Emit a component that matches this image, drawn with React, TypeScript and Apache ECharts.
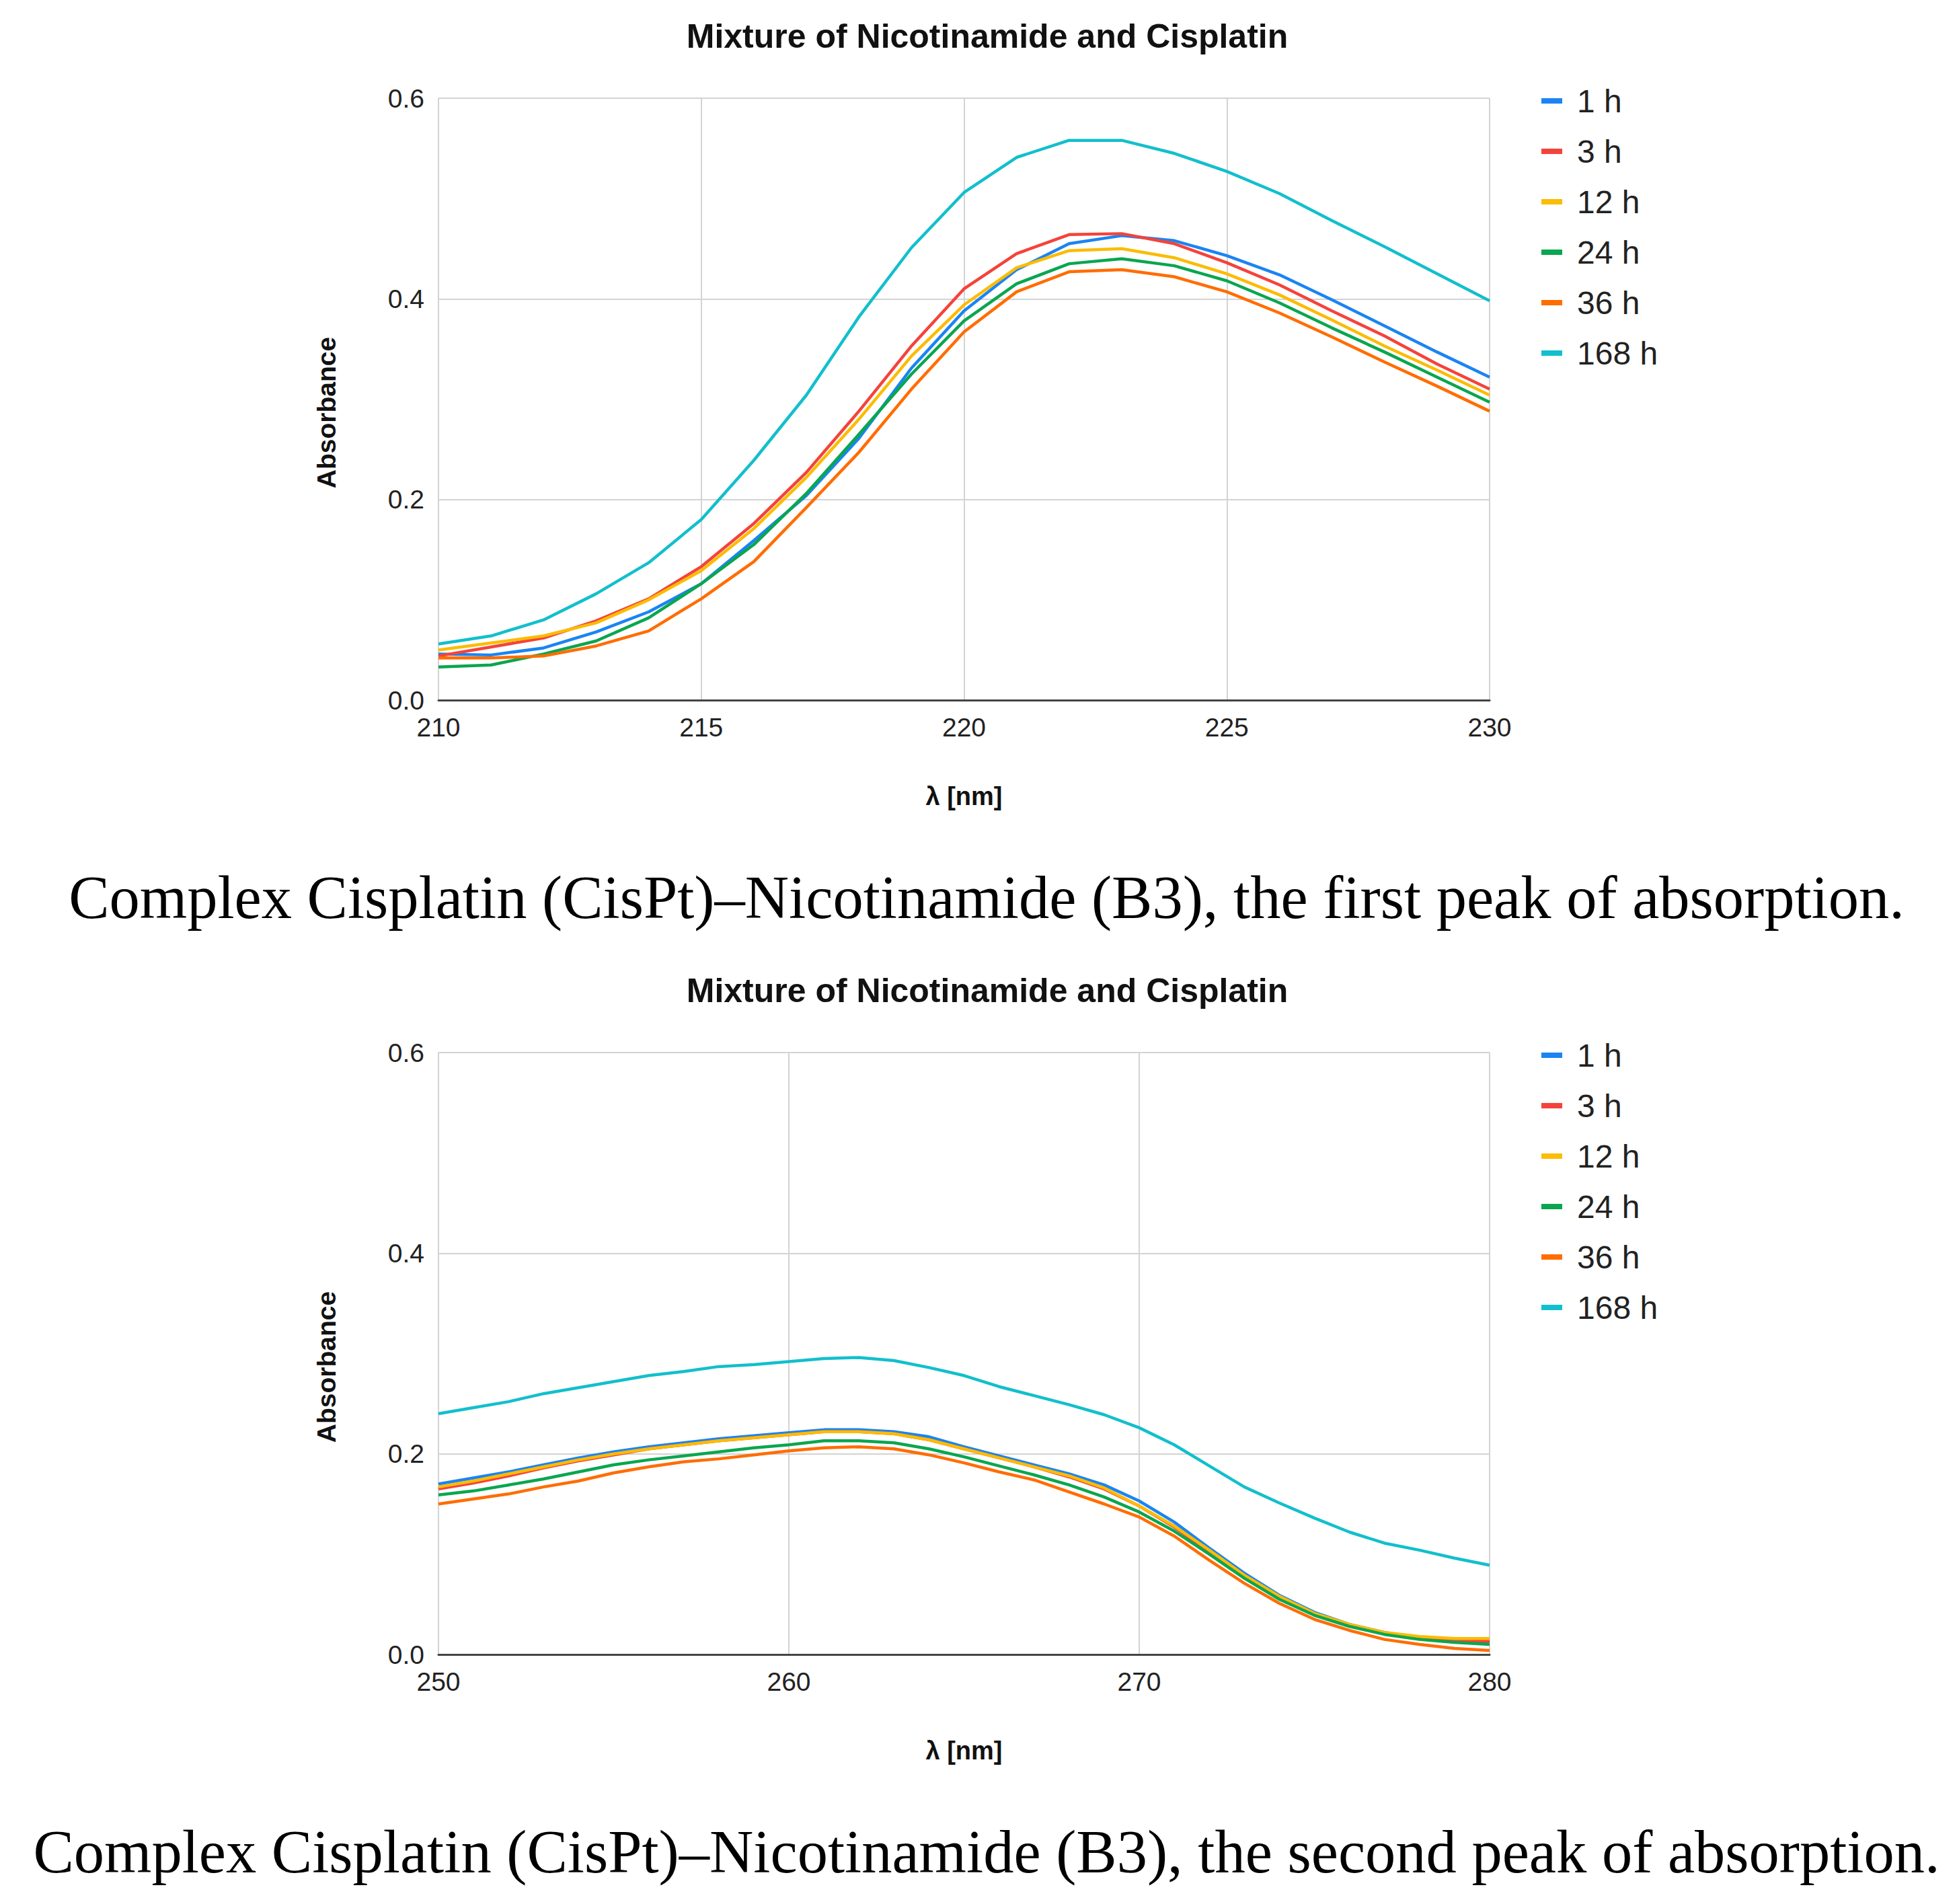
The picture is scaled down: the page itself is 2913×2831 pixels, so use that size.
import { useEffect, useRef } from "react";
import * as echarts from "echarts";

const SANS = "'Liberation Sans', Arial, sans-serif";
const SERIF = "'Liberation Serif', 'Times New Roman', serif";

const chartTitle = "Mixture of Nicotinamide and Cisplatin";
const captions = [
  "Complex Cisplatin (CisPt)–Nicotinamide (B3), the first peak of absorption.",
  "Complex Cisplatin (CisPt)–Nicotinamide (B3), the second peak of absorption.",
];

const seriesNames = ["1 h", "3 h", "12 h", "24 h", "36 h", "168 h"];
const seriesColors = ["#1b84f2", "#f4433b", "#fbbc04", "#0aa64f", "#ff6d01", "#12bfcc"];

const yTicks = [0, 0.2, 0.4, 0.6];

// first peak, 210–230 nm
const firstWavelengths = [
  210, 211, 212, 213, 214, 215, 216, 217, 218, 219, 220,
  221, 222, 223, 224, 225, 226, 227, 228, 229, 230,
];
const first1h = [0.046, 0.045, 0.052, 0.068, 0.088, 0.116, 0.159, 0.204, 0.261, 0.331, 0.388, 0.429, 0.455, 0.463, 0.458, 0.443, 0.424, 0.399, 0.373, 0.347, 0.322];
const first3h = [0.044, 0.053, 0.062, 0.079, 0.101, 0.133, 0.176, 0.227, 0.288, 0.353, 0.41, 0.445, 0.464, 0.465, 0.455, 0.436, 0.414, 0.388, 0.363, 0.335, 0.31];
const first12h = [0.05, 0.057, 0.064, 0.077, 0.1, 0.129, 0.171, 0.222, 0.28, 0.343, 0.394, 0.431, 0.448, 0.45, 0.441, 0.425, 0.404, 0.379, 0.353, 0.329, 0.304];
const first24h = [0.033, 0.035, 0.046, 0.059, 0.082, 0.116, 0.155, 0.206, 0.265, 0.325, 0.378, 0.415, 0.435, 0.44, 0.433, 0.418, 0.396, 0.371, 0.347, 0.322, 0.297];
const first36h = [0.042, 0.042, 0.044, 0.054, 0.069, 0.101, 0.138, 0.192, 0.247, 0.31, 0.367, 0.407, 0.427, 0.429, 0.422, 0.407, 0.386, 0.362, 0.337, 0.313, 0.288];
const first168h = [0.056, 0.064, 0.08, 0.106, 0.137, 0.18, 0.239, 0.304, 0.382, 0.451, 0.506, 0.541, 0.558, 0.558, 0.545, 0.527, 0.505, 0.478, 0.452, 0.425, 0.398];

// second peak, 250–280 nm
const secondWavelengths = [
  250, 251, 252, 253, 254, 255, 256, 257, 258, 259, 260,
  261, 262, 263, 264, 265, 266, 267, 268, 269, 270,
  271, 272, 273, 274, 275, 276, 277, 278, 279, 280,
];
const second1h = [0.17, 0.176, 0.182, 0.189, 0.196, 0.202, 0.207, 0.211, 0.215, 0.218, 0.221, 0.224, 0.224, 0.222, 0.217, 0.207, 0.198, 0.189, 0.18, 0.169, 0.153, 0.132, 0.106, 0.081, 0.059, 0.042, 0.03, 0.022, 0.017, 0.015, 0.012];
const second3h = [0.165, 0.171, 0.178, 0.186, 0.193, 0.199, 0.205, 0.209, 0.213, 0.216, 0.219, 0.222, 0.222, 0.22, 0.214, 0.205, 0.196, 0.187, 0.177, 0.165, 0.148, 0.127, 0.102, 0.078, 0.057, 0.04, 0.029, 0.021, 0.016, 0.014, 0.013];
const second12h = [0.167, 0.173, 0.18, 0.187, 0.194, 0.2, 0.205, 0.209, 0.213, 0.216, 0.219, 0.222, 0.222, 0.22, 0.214, 0.205, 0.196, 0.187, 0.178, 0.166, 0.148, 0.128, 0.104, 0.079, 0.058, 0.041, 0.03, 0.022, 0.018, 0.016, 0.016];
const second24h = [0.159, 0.163, 0.169, 0.175, 0.182, 0.189, 0.194, 0.198, 0.202, 0.206, 0.209, 0.213, 0.213, 0.211, 0.205, 0.197, 0.188, 0.179, 0.169, 0.157, 0.142, 0.123, 0.1, 0.076, 0.055, 0.039, 0.028, 0.02, 0.015, 0.012, 0.01];
const second36h = [0.15, 0.155, 0.16, 0.167, 0.173, 0.181, 0.187, 0.192, 0.195, 0.199, 0.203, 0.206, 0.207, 0.205, 0.199, 0.191, 0.182, 0.174, 0.162, 0.15, 0.137, 0.118, 0.094, 0.071, 0.051, 0.035, 0.024, 0.015, 0.01, 0.006, 0.004];
const second168h = [0.24, 0.246, 0.252, 0.26, 0.266, 0.272, 0.278, 0.282, 0.287, 0.289, 0.292, 0.295, 0.296, 0.293, 0.286, 0.278, 0.267, 0.258, 0.249, 0.239, 0.226, 0.209, 0.188, 0.167, 0.151, 0.136, 0.122, 0.111, 0.104, 0.096, 0.089];

const firstPeak = [first1h, first3h, first12h, first24h, first36h, first168h];
const secondPeak = [second1h, second3h, second12h, second24h, second36h, second168h];

const panels = [
  { wavelengths: firstWavelengths, values: firstPeak, min: 210, max: 230, interval: 5 },
  { wavelengths: secondWavelengths, values: secondPeak, min: 250, max: 280, interval: 10 },
];

const PANEL_STEP = 1419;

function buildOption() {
  const grid: object[] = [];
  const xAxis: object[] = [];
  const yAxis: object[] = [];
  const legend: object[] = [];
  const series: object[] = [];
  const graphic: object[] = [];

  panels.forEach((panel, p) => {
    const dy = p * PANEL_STEP;
    grid.push({ left: 652, top: 146 + dy, width: 1563, height: 895 });
    xAxis.push({
      type: "value",
      gridIndex: p,
      min: panel.min,
      max: panel.max,
      interval: panel.interval,
      name: "λ [nm]",
      nameLocation: "middle",
      nameGap: 124,
      nameTextStyle: { fontFamily: SANS, fontSize: 38, fontWeight: "bold", color: "#111" },
      axisLine: { show: true, lineStyle: { color: "#444", width: 3 } },
      axisTick: { show: false },
      axisLabel: { fontFamily: SANS, fontSize: 39, color: "#222", margin: 21 },
      splitLine: { show: true, lineStyle: { color: "#d3d3d3", width: 2 } },
    });
    yAxis.push({
      type: "value",
      gridIndex: p,
      min: yTicks[0],
      max: yTicks[yTicks.length - 1],
      interval: 0.2,
      name: "Absorbance",
      nameLocation: "middle",
      nameGap: 147,
      nameTextStyle: {
        fontFamily: SANS,
        fontSize: 39,
        fontWeight: "bold",
        color: "#111",
        padding: [0, 40, 0, 0],
      },
      axisLine: { show: false },
      axisTick: { show: false },
      axisLabel: {
        fontFamily: SANS,
        fontSize: 39,
        color: "#222",
        margin: 21,
        formatter: (v: number) => v.toFixed(1),
      },
      splitLine: { show: true, lineStyle: { color: "#d3d3d3", width: 2 } },
    });
    legend.push({
      orient: "vertical",
      left: 2287,
      top: 121 + dy,
      itemWidth: 31,
      itemHeight: 8,
      itemGap: 27,
      icon: "rect",
      selectedMode: false,
      data: seriesNames,
      textStyle: {
        fontFamily: SANS,
        fontSize: 48,
        lineHeight: 48,
        color: "#222",
        padding: [0, 0, 0, 17],
      },
    });
    seriesNames.forEach((name, i) => {
      series.push({
        type: "line",
        name,
        xAxisIndex: p,
        yAxisIndex: p,
        showSymbol: false,
        color: seriesColors[i],
        lineStyle: { width: 4.5, color: seriesColors[i] },
        data: panel.wavelengths.map((w, k) => [w, panel.values[i][k]]),
      });
    });
    graphic.push({
      type: "text",
      x: 1468,
      y: 54 + dy,
      style: {
        text: chartTitle,
        fontFamily: SANS,
        fontSize: 50,
        fontWeight: "bold",
        fill: "#111",
        align: "center",
        verticalAlign: "middle",
      },
    });
    graphic.push({
      type: "text",
      x: 1467,
      y: 1334 + dy,
      style: {
        text: captions[p],
        fontFamily: SERIF,
        fontSize: 90.5,
        fill: "#000",
        align: "center",
        verticalAlign: "middle",
      },
    });
  });

  return {
    animation: false,
    backgroundColor: "#fff",
    grid,
    xAxis,
    yAxis,
    legend,
    series,
    graphic,
  };
}

export default function App() {
  const ref = useRef<HTMLDivElement>(null);

  useEffect(() => {
    document.body.style.margin = "0";
    const el = ref.current;
    if (!el) return;
    const chart = echarts.init(el, null, { renderer: "svg" });
    chart.setOption(buildOption());
    return () => chart.dispose();
  }, []);

  return <div ref={ref} style={{ width: 2913, height: 2831, background: "#fff" }} />;
}
